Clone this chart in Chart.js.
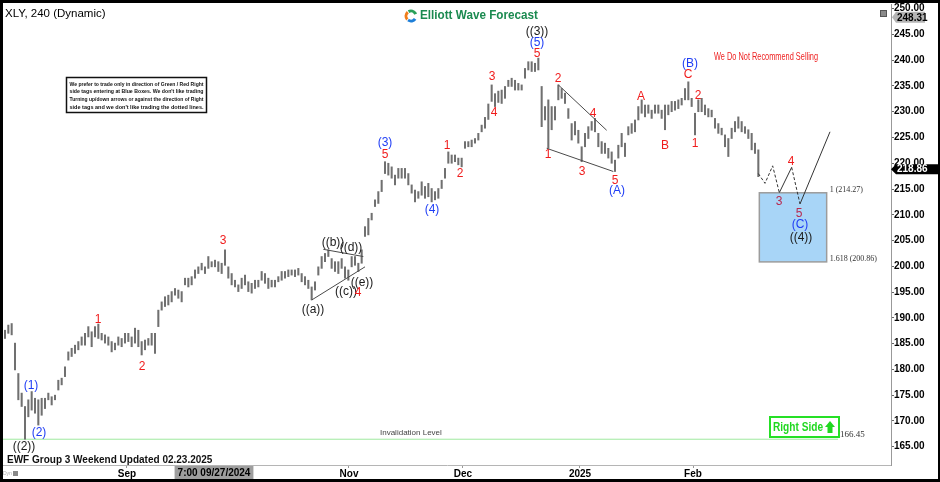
<!DOCTYPE html>
<html>
<head>
<meta charset="utf-8">
<script src="https://cdn.jsdelivr.net/npm/chart.js@4.4.1/dist/chart.umd.min.js"></script>
<style>
  html, body { margin: 0; padding: 0; background: #000; }
  #wrap { position: absolute; left: 3px; top: 3px; width: 935px; height: 476px; background: #fff; }
  canvas { display: block; }
</style>
</head>
<body>
<div id="wrap"><canvas id="chart" width="935" height="476"></canvas></div>
<script>
// XLY 240 min bars (high / low per bar)
const highs = [
  187.6, 188.6, 188.9, 185.1, 179.2, 175.4, 172.8, 174.1, 175.7, 174.4,
  174.1, 174.4, 174.4, 175.4, 174.7, 175.0, 177.9, 178.3, 180.5, 183.4,
  184.1, 184.7, 185.4, 186.3, 187.0, 188.3, 187.3, 188.3, 188.8, 187.0,
  186.7, 186.3, 185.4, 185.1, 186.3, 186.0, 187.0, 187.0, 186.3, 188.0,
  187.6, 185.4, 185.7, 186.0, 187.0, 187.0, 191.5, 193.1, 194.1, 194.4,
  195.1, 195.7, 195.4, 195.1, 197.7, 197.7, 198.0, 199.3, 199.9, 200.6,
  199.9, 201.9, 200.9, 201.2, 200.9, 200.6, 203.2, 199.9, 198.6, 197.3,
  196.4, 197.7, 198.3, 197.0, 196.7, 197.3, 197.3, 199.0, 198.6, 197.7,
  197.3, 197.3, 198.0, 199.0, 199.0, 199.3, 199.3, 199.3, 199.6, 198.6,
  198.0, 197.3, 196.0, 197.0, 199.9, 201.9, 202.5, 203.2, 201.5, 200.9,
  200.9, 201.5, 199.9, 199.3, 201.9, 201.9, 200.6, 203.2, 207.7, 209.3,
  210.3, 212.9, 214.5, 216.7, 220.3, 220.0, 219.3, 217.7, 219.0, 219.0,
  219.0, 218.0, 215.8, 214.8, 214.5, 216.4, 215.5, 216.1, 215.1, 214.5,
  215.1, 216.7, 219.0, 222.2, 221.6, 221.6, 221.0, 221.0, 224.2, 224.2,
  224.5, 224.8, 225.8, 227.4, 228.9, 231.5, 235.2, 233.5, 234.0, 234.2,
  234.9, 236.1, 236.5, 236.1, 235.5, 235.2, 238.4, 239.7, 239.7, 239.4,
  240.4, 234.9, 231.0, 232.3, 231.0, 231.0, 235.2, 234.5, 233.6, 230.6,
  227.7, 228.1, 226.4, 223.2, 225.8, 227.1, 228.1, 228.7, 225.8, 224.2,
  223.9, 222.9, 222.2, 220.6, 223.5, 225.8, 223.9, 227.1, 227.7, 228.4,
  231.0, 232.3, 231.3, 231.3, 230.3, 231.3, 231.3, 230.3, 231.3, 231.3,
  232.0, 232.0, 232.3, 232.6, 234.5, 235.8, 232.6, 229.7, 232.3, 232.6,
  231.3, 230.6, 230.3, 228.7, 227.7, 226.8, 225.5, 224.8, 226.8, 228.1,
  229.0, 228.1, 227.1, 226.5, 225.8, 223.9, 222.6
];
const lows = [
  186.0, 187.0, 186.7, 179.9, 174.1, 172.8, 166.45, 170.8, 172.1, 171.5,
  169.2, 171.1, 172.4, 174.1, 173.1, 174.1, 176.0, 177.0, 178.6, 181.8,
  182.5, 183.1, 183.8, 184.7, 184.7, 186.3, 184.4, 186.3, 186.0, 185.7,
  185.1, 184.7, 183.4, 183.8, 184.7, 184.4, 185.1, 185.4, 184.4, 185.1,
  184.4, 182.8, 183.8, 184.7, 184.7, 183.1, 188.3, 191.5, 192.2, 192.5,
  193.1, 194.4, 193.8, 193.1, 196.4, 196.0, 196.4, 197.7, 198.6, 199.3,
  198.6, 199.6, 199.9, 199.9, 199.0, 198.6, 200.2, 197.7, 196.4, 196.0,
  195.1, 195.7, 196.4, 195.1, 194.8, 195.7, 196.0, 197.3, 196.7, 195.7,
  196.0, 196.0, 197.0, 197.3, 197.7, 198.0, 198.3, 198.0, 198.3, 197.0,
  196.4, 195.7, 193.5, 195.4, 198.3, 199.6, 200.9, 201.9, 199.6, 199.0,
  198.6, 199.6, 197.7, 197.3, 199.9, 200.2, 199.0, 200.6, 205.8, 206.1,
  209.0, 211.6, 212.2, 214.5, 218.0, 217.7, 217.1, 215.8, 217.1, 217.1,
  217.1, 215.8, 214.2, 212.5, 213.2, 213.8, 213.2, 213.5, 212.5, 212.9,
  213.2, 215.1, 217.1, 220.0, 220.0, 220.3, 219.7, 219.3, 222.9, 223.2,
  223.2, 223.9, 224.5, 226.1, 226.8, 228.5, 232.0, 231.0, 231.8, 231.6,
  232.6, 234.9, 234.9, 234.2, 234.2, 234.2, 236.5, 238.1, 237.8, 237.8,
  238.1, 227.1, 228.4, 222.9, 226.5, 228.4, 232.3, 232.6, 231.6, 228.7,
  224.5, 225.5, 223.9, 220.3, 223.2, 224.8, 226.4, 226.1, 223.2, 221.9,
  221.9, 221.0, 220.0, 218.4, 221.0, 223.2, 221.3, 225.5, 225.8, 226.1,
  228.4, 229.7, 229.0, 229.7, 228.7, 229.7, 229.7, 228.7, 226.5, 229.4,
  230.0, 230.3, 230.6, 231.3, 232.3, 232.3, 231.0, 225.5, 230.0, 230.0,
  229.4, 229.0, 229.0, 226.8, 225.8, 225.5, 223.2, 221.3, 224.8, 226.1,
  226.8, 226.1, 225.8, 224.8, 222.6, 221.9, 217.4
];
const lastClose = 218.86;
const highTag = 248.31;

const yTicks = [165, 170, 175, 180, 185, 190, 195, 200, 205, 210, 215, 220, 225, 230, 235, 240, 245, 250];
const monthLabels = ['Sep', 'Nov', 'Dec', '2025', 'Feb'];
const monthStartBar = [36.6, 103.2, 137.4, 172.5, 206.4];
const cursorBar = 62.7;
const cursorLabel = '7:00 09/27/2024';

const invalidationLevel = 166.45;
const blueBoxBars = [226.3, 246.5];
const blueBoxLevels = [214.27, 200.86];

// projected path after the last bar
const pathBars = [226, 228, 230.3, 232.3, 236.0, 238.5, 247.5];
const pathPrices = [218.0, 216.1, 219.5, 214.3, 219.2, 212.1, 226.1];
const pathDashed = [0, 1, 2, 4];

// triangle / diagonal lines [bar, price] pairs
const trendLines = [
  [[92, 193.46], [108, 199.9]],
  [[95.5, 203.3], [107.5, 201.9]],
  [[166, 235.2], [180.5, 226.4]],
  [[162.5, 222.9], [182.5, 218.4]]
];

// wave labels: text, bar, price, colour key
const waveLabels = [
  ['((2))', 5.7, 165.1, 'k'], ['(1)', 7.8, 176.9, 'b'], ['(2)', 10.2, 167.7, 'b'],
  ['1', 27.9, 189.6, 'r'], ['2', 41.1, 180.6, 'r'], ['3', 65.4, 204.9, 'r'],
  ['((a))', 92.4, 191.5, 'k'], ['((b))', 98.4, 204.5, 'k'], ['((c))', 102.3, 195.0, 'k'],
  ['((d))', 103.8, 203.6, 'k'], ['((e))', 107.1, 196.9, 'k'], ['4', 105.9, 194.8, 'r'],
  ['(3)', 114, 223.9, 'b'], ['5', 114, 221.6, 'r'], ['(4)', 128.1, 210.9, 'b'],
  ['1', 132.6, 223.5, 'r'], ['2', 136.5, 217.9, 'r'], ['3', 146.1, 236.7, 'r'],
  ['4', 146.7, 229.9, 'r'], ['((3))', 159.6, 245.5, 'k'], ['(5)', 159.6, 243.3, 'b'],
  ['5', 159.6, 241.2, 'r'], ['1', 162.9, 221.6, 'r'], ['2', 165.9, 236.5, 'r'],
  ['3', 173.1, 218.3, 'r'], ['4', 176.4, 229.7, 'r'], ['5', 183, 216.7, 'r'],
  ['(A)', 183.6, 214.6, 'b'], ['A', 190.8, 233.0, 'r'], ['B', 198, 223.5, 'r'],
  ['(B)', 205.5, 239.4, 'b'], ['C', 204.9, 237.1, 'r'], ['2', 207.9, 233.2, 'r'],
  ['1', 207, 223.7, 'r'], ['3', 232.2, 212.5, 'm'], ['4', 235.8, 220.4, 'r'],
  ['5', 238.2, 210.3, 'm'], ['(C)', 238.5, 208.0, 'b'], ['((4))', 238.8, 205.5, 'k']
];

const disclaimer = [
  'We prefer to trade only in direction of Green / Red Right',
  'side tags entering at Blue Boxes. We don\'t like trading',
  'Turning up/down arrows or against the direction of Right',
  'side tags and we don\'t like trading the dotted lines.'
];

const FONT = 'Arial, "Liberation Sans", sans-serif';
const SERIF = '"Liberation Serif", "DejaVu Serif", serif';
const waveColors = { r: '#f01c1c', b: '#1f3df5', k: '#1a1a1a', m: '#b8284e' };

const overlay = {
  id: 'overlay',
  beforeDatasetsDraw(chart) {
    const { ctx, scales: { x, y } } = chart;
    const x0 = x.getPixelForValue(blueBoxBars[0]);
    const x1 = x.getPixelForValue(blueBoxBars[1]);
    const y0 = y.getPixelForValue(blueBoxLevels[0]);
    const y1 = y.getPixelForValue(blueBoxLevels[1]);
    ctx.save();
    ctx.fillStyle = '#a8d5f7';
    ctx.fillRect(x0, y0, x1 - x0, y1 - y0);
    ctx.strokeStyle = '#9c9c9c';
    ctx.lineWidth = 1.5;
    ctx.strokeRect(x0, y0, x1 - x0, y1 - y0);
    ctx.restore();
  },
  afterDraw(chart) {
    const { ctx, scales: { x, y }, chartArea } = chart;
    ctx.save();
    ctx.textBaseline = 'middle';

    // title
    ctx.fillStyle = '#000';
    ctx.font = '11.5px ' + FONT;
    ctx.textAlign = 'left';
    ctx.fillText('XLY, 240 (Dynamic)', 2, 11);

    // logo
    const lx = 408, ly = 13;
    ctx.lineWidth = 3;
    [['#1e7fd8', 0.6, 2.2], ['#f07d1a', 2.4, 4.0], ['#2aa05a', 4.2, 5.9]].forEach(([c, a, b]) => {
      ctx.strokeStyle = c;
      ctx.beginPath();
      ctx.arc(lx, ly, 5, a, b);
      ctx.stroke();
    });
    ctx.fillStyle = '#1b8a50';
    ctx.font = 'bold 12px ' + FONT;
    ctx.fillText('Elliott Wave Forecast', 417, 13, 118);

    // disclaimer box
    ctx.strokeStyle = '#111';
    ctx.lineWidth = 1.5;
    ctx.strokeRect(63.5, 74.5, 140, 35);
    ctx.fillStyle = '#111';
    ctx.font = 'bold 5.6px ' + FONT;
    disclaimer.forEach((t, i) => ctx.fillText(t, 66.5, 81 + i * 7.9, 134));

    // red warning
    ctx.fillStyle = '#ee2020';
    ctx.font = '10.5px ' + FONT;
    ctx.fillText('We Do Not Recommend Selling', 711, 54, 104);

    // wave labels
    ctx.textAlign = 'center';
    ctx.font = '12px ' + FONT;
    waveLabels.forEach(([t, b, p, c]) => {
      ctx.fillStyle = waveColors[c];
      ctx.fillText(t, x.getPixelForValue(b), y.getPixelForValue(p));
    });

    // blue box levels
    ctx.textAlign = 'left';
    ctx.fillStyle = '#333';
    ctx.font = '8px ' + SERIF;
    const bx = x.getPixelForValue(blueBoxBars[1]) + 3;
    ctx.fillText('1 (' + blueBoxLevels[0].toFixed(2) + ')', bx, y.getPixelForValue(blueBoxLevels[0]) - 3);
    ctx.fillText('1.618 (' + blueBoxLevels[1].toFixed(2) + ')', bx, y.getPixelForValue(blueBoxLevels[1]) - 3);

    // invalidation level
    const iy = y.getPixelForValue(invalidationLevel);
    ctx.font = '9px ' + SERIF;
    ctx.fillText(invalidationLevel.toFixed(2), x.getPixelForValue(249.9) + 2, iy - 5);
    ctx.font = '8px ' + FONT;
    ctx.fillStyle = '#444';
    ctx.fillText('Invalidation Level', 377, iy - 6);

    // right side tag
    ctx.strokeStyle = '#25e025';
    ctx.lineWidth = 2;
    ctx.strokeRect(767, 414, 69, 20);
    ctx.fillStyle = '#1fd81f';
    ctx.font = 'bold 12px ' + FONT;
    ctx.fillText('Right Side', 770, 424.5, 50);
    ctx.beginPath();
    ctx.moveTo(827, 418); ctx.lineTo(832, 424); ctx.lineTo(829.5, 424); ctx.lineTo(829.5, 430);
    ctx.lineTo(824.5, 430); ctx.lineTo(824.5, 424); ctx.lineTo(822, 424); ctx.closePath();
    ctx.fill();

    // footer
    ctx.fillStyle = '#111';
    ctx.font = 'bold 10px ' + FONT;
    ctx.fillText('EWF Group 3 Weekend Updated 02.23.2025', 4, 457);
    ctx.fillStyle = '#aaa';
    ctx.font = '5px ' + FONT;
    ctx.fillText('Dyn', 0, 471);
    ctx.fillStyle = '#888';
    ctx.fillRect(10, 468, 5, 5);

    // cursor date on x axis
    ctx.font = 'bold 10px ' + FONT;
    const cx = x.getPixelForValue(cursorBar);
    const cw = ctx.measureText(cursorLabel).width + 6;
    ctx.fillStyle = '#9e9e9e';
    ctx.fillRect(cx - cw / 2, chartArea.bottom + 1, cw, 14);
    ctx.fillStyle = '#000';
    ctx.textAlign = 'center';
    ctx.fillText(cursorLabel, cx, chartArea.bottom + 8);

    // price tags on the axis
    ctx.textAlign = 'left';
    const ax = chartArea.right;
    const hy = y.getPixelForValue(highTag);
    ctx.fillStyle = '#b4b4b4';
    ctx.beginPath();
    ctx.moveTo(ax + 1, hy); ctx.lineTo(ax + 5, hy - 5.5); ctx.lineTo(ax + 34, hy - 5.5);
    ctx.lineTo(ax + 34, hy + 5.5); ctx.lineTo(ax + 5, hy + 5.5); ctx.closePath();
    ctx.fill();
    ctx.fillStyle = '#000';
    ctx.fillText(highTag.toFixed(2), ax + 6, hy + 0.5);

    const cy = y.getPixelForValue(lastClose);
    ctx.fillStyle = '#000';
    ctx.beginPath();
    ctx.moveTo(ax, cy); ctx.lineTo(ax + 5, cy - 5); ctx.lineTo(chart.width, cy - 5);
    ctx.lineTo(chart.width, cy + 5); ctx.lineTo(ax + 5, cy + 5); ctx.closePath();
    ctx.fill();
    ctx.fillStyle = '#fff';
    ctx.fillText(lastClose.toFixed(2), ax + 6, cy + 0.5);

    // corner icon
    ctx.fillStyle = '#8a8a8a';
    ctx.fillRect(877, 7, 7, 7);
    ctx.strokeStyle = '#555';
    ctx.lineWidth = 1;
    ctx.strokeRect(877.5, 7.5, 6, 6);
    ctx.restore();
  }
};

const barData = highs.map((h, i) => ({ x: i, y: [lows[i], h] }));
const pathData = pathBars.map((b, i) => ({ x: b, y: pathPrices[i] }));

new Chart(document.getElementById('chart'), {
  type: 'bar',
  data: {
    datasets: [
      {
        type: 'line',
        data: pathData,
        borderColor: '#333',
        borderWidth: 1,
        pointRadius: 0,
        segment: { borderDash: (c) => (pathDashed.includes(c.p0DataIndex) ? [3, 2] : undefined) }
      },
      ...trendLines.map((l) => ({
        type: 'line',
        data: l.map(([b, p]) => ({ x: b, y: p })),
        borderColor: '#4a4a4a',
        borderWidth: 1,
        pointRadius: 0
      })),
      {
        type: 'bar',
        data: barData,
        backgroundColor: '#707070',
        borderWidth: 0,
        barThickness: 1.4,
        grouped: false
      },
      {
        type: 'line',
        data: [{ x: -1, y: invalidationLevel }, { x: 249.9, y: invalidationLevel }],
        borderColor: '#9fe99f',
        borderWidth: 1,
        pointRadius: 0
      }
    ]
  },
  options: {
    responsive: false,
    animation: false,
    devicePixelRatio: 1,
    layout: { padding: { top: 1, left: 0, right: 0, bottom: 0 } },
    plugins: { legend: { display: false }, tooltip: { enabled: false } },
    scales: {
      x: {
        type: 'linear',
        offset: false,
        min: -0.6,
        max: 265.8,
        afterFit: (s) => { s.height = 14; s.paddingLeft = 0; s.paddingRight = 0; },
        afterBuildTicks: (s) => { s.ticks = monthStartBar.map((v) => ({ value: v })); },
        ticks: {
          callback: (v, i) => monthLabels[i],
          color: '#000',
          font: { family: FONT, size: 10, weight: 'bold' },
          padding: 0,
          maxRotation: 0,
          autoSkip: false
        },
        grid: { drawOnChartArea: false, tickLength: 3, color: '#999', offset: false },
        border: { color: '#b5b5b5' }
      },
      y: {
        position: 'right',
        min: 161.45,
        max: 250.9,
        afterFit: (s) => { s.width = 47; s.paddingTop = 0; s.paddingBottom = 0; },
        afterBuildTicks: (s) => { s.ticks = yTicks.map((v) => ({ value: v })); },
        ticks: {
          callback: (v) => Number(v).toFixed(2),
          color: '#000',
          font: { family: FONT, size: 10, weight: 'bold' },
          padding: 0
        },
        grid: { drawOnChartArea: false, tickLength: 3, color: '#666' },
        border: { color: '#999' }
      }
    }
  },
  plugins: [overlay]
});
</script>
</body>
</html>
